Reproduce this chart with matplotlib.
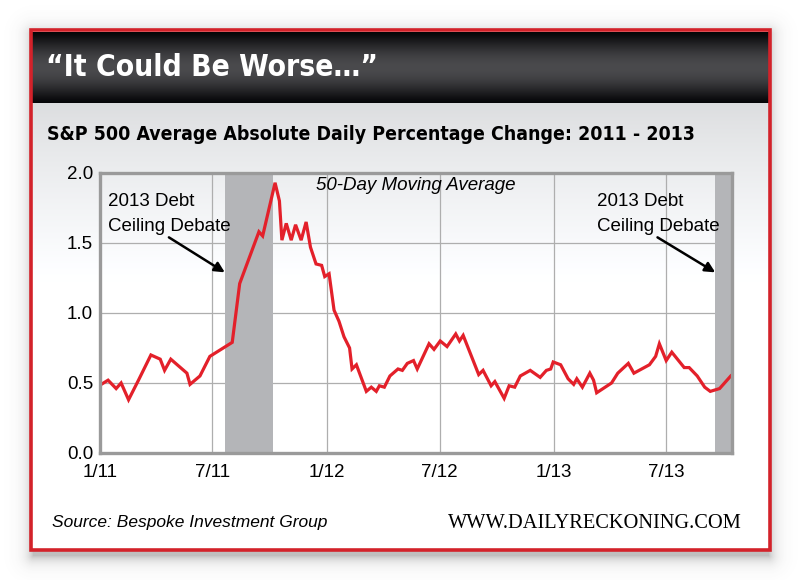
import numpy as np
import pandas as pd
import matplotlib
matplotlib.use('Agg')
import matplotlib.pyplot as plt
from matplotlib import font_manager as fm
from matplotlib.patches import Rectangle

# 50-day moving average of absolute daily % change
dates = ['2011-01-03', '2011-01-14', '2011-01-27', '2011-02-04', '2011-02-16', '2011-03-04',
         '2011-03-24', '2011-04-08', '2011-04-15', '2011-04-25', '2011-05-21', '2011-05-26',
         '2011-06-11', '2011-06-27', '2011-08-02', '2011-08-14', '2011-09-14', '2011-09-20',
         '2011-10-10', '2011-10-17', '2011-10-21', '2011-10-28', '2011-11-05', '2011-11-12',
         '2011-11-21', '2011-11-29', '2011-12-06', '2011-12-15', '2011-12-24', '2011-12-29',
         '2012-01-05', '2012-01-13', '2012-01-21', '2012-01-29', '2012-02-07', '2012-02-11',
         '2012-02-18', '2012-03-05', '2012-03-13', '2012-03-21', '2012-03-26', '2012-04-03',
         '2012-04-12', '2012-04-25', '2012-05-02', '2012-05-10', '2012-05-20', '2012-05-26',
         '2012-06-14', '2012-06-22', '2012-07-02', '2012-07-13', '2012-07-27', '2012-08-02',
         '2012-08-08', '2012-09-02', '2012-09-09', '2012-09-22', '2012-09-28', '2012-10-13',
         '2012-10-21', '2012-10-30', '2012-11-08', '2012-11-24', '2012-12-10', '2012-12-20',
         '2012-12-27', '2012-12-31', '2013-01-12', '2013-01-24', '2013-02-02', '2013-02-07',
         '2013-02-16', '2013-02-28', '2013-03-06', '2013-03-11', '2013-04-04', '2013-04-14',
         '2013-05-01', '2013-05-10', '2013-06-04', '2013-06-14', '2013-06-20', '2013-07-01',
         '2013-07-10', '2013-07-30', '2013-08-07', '2013-08-20', '2013-09-01', '2013-09-10',
         '2013-09-25', '2013-10-13']
values = [0.49, 0.52, 0.46, 0.50, 0.38, 0.52, 0.70, 0.67, 0.59, 0.67, 0.57, 0.49,
          0.55, 0.69, 0.79, 1.21, 1.58, 1.55, 1.93, 1.80, 1.52, 1.64, 1.52, 1.63,
          1.52, 1.65, 1.47, 1.35, 1.34, 1.26, 1.28, 1.02, 0.94, 0.83, 0.75, 0.60,
          0.63, 0.44, 0.47, 0.44, 0.48, 0.47, 0.55, 0.60, 0.59, 0.64, 0.66, 0.60,
          0.78, 0.74, 0.80, 0.76, 0.85, 0.80, 0.84, 0.56, 0.59, 0.48, 0.51, 0.39,
          0.48, 0.47, 0.55, 0.59, 0.54, 0.59, 0.60, 0.65, 0.63, 0.53, 0.49, 0.53,
          0.47, 0.57, 0.52, 0.43, 0.50, 0.57, 0.64, 0.57, 0.63, 0.69, 0.78, 0.66,
          0.72, 0.61, 0.61, 0.55, 0.47, 0.44, 0.46, 0.55]

shade_periods = [('2011-07-22', '2011-10-07'), ('2013-09-17', '2013-10-15')]
# arrow tail / head for each "Debt Ceiling" note
arrow_tails = [('2011-04-22', 1.54), ('2013-06-17', 1.54)]
arrow_heads = [('2011-07-21', 1.29), ('2013-09-18', 1.29)]
note_pos = [(0.012, 0.853), (0.786, 0.853)]
tick_dates = ['2011-01-01', '2011-07-01', '2012-01-01', '2012-07-01', '2013-01-01', '2013-07-01']
tick_labels = ['1/11', '7/11', '1/12', '7/12', '1/13', '7/13']
y_ticks = [0.0, 0.5, 1.0, 1.5, 2.0]

x = pd.to_datetime(dates)
sans = ['Liberation Sans', 'DejaVu Sans']

# condensed bold face for the headings if one is installed
names = {f.name for f in fm.fontManager.ttflist}
head_font = dict(family=['Liberation Sans', 'DejaVu Sans'], fontweight='bold')
if 'Liberation Sans Narrow' in names:
    head_font = dict(family=['Liberation Sans Narrow', 'DejaVu Sans'], fontweight='bold')
else:
    fp = fm.FontProperties(family='DejaVu Sans', weight='bold', stretch='condensed')
    if 'Condensed' in fm.findfont(fp):
        head_font = dict(family=['DejaVu Sans'], fontweight='bold', fontstretch='condensed')

fig = plt.figure(figsize=(8, 5.8), dpi=100)
fig.patch.set_facecolor('white')


def fit_width(txt, target_px):
    # shrink/grow a text so it spans the same width as in the original
    fig.canvas.draw()
    w = txt.get_window_extent().width
    txt.set_fontsize(txt.get_fontsize() * target_px / w)


# background: shadow, frame, header band, gradient panel (pixel coords)
bg = fig.add_axes([0, 0, 1, 1])
bg.set_xlim(0, 800)
bg.set_ylim(580, 0)
bg.axis('off')

W, H = 800, 580
yy, xx = np.mgrid[0:H, 0:W]
dx = np.maximum(np.maximum(33 - xx, xx - 768), 0)
dy = np.maximum(np.maximum(34 - yy, yy - 555), 0)
d = np.hypot(dx, dy)
shadow = np.zeros((H, W, 4))
shadow[..., :3] = 0.3
shadow[..., 3] = 0.36 * np.exp(-d / 6.5)
bg.imshow(shadow, extent=(0, W, H, 0), zorder=0, interpolation='bilinear')

bg.add_patch(Rectangle((31, 30), 739, 520, facecolor='white', edgecolor='none', zorder=1))

# light gray gradient under the subtitle
g = np.linspace(0, 1, 200)
panel = np.ones((200, 2, 3))
shade_val = 0.86 + 0.14 * np.clip(g * 1.1, 0, 1) ** 0.8
panel[..., 0] = shade_val[:, None]
panel[..., 1] = shade_val[:, None] + 0.005
panel[..., 2] = shade_val[:, None] + 0.012
bg.imshow(np.clip(panel, 0, 1), extent=(32, 769, 300, 103), aspect='auto', zorder=2,
          interpolation='bilinear')

# dark header band
t = np.linspace(0, 1, 100)
band = 0.02 + 0.27 * np.sin(np.pi * t) ** 1.2
header = np.zeros((100, 2, 3))
header[..., 0] = band[:, None]
header[..., 1] = band[:, None]
header[..., 2] = band[:, None] + 0.01
bg.imshow(header, extent=(32, 769, 103, 32), aspect='auto', zorder=3, interpolation='bilinear')

bg.add_patch(Rectangle((31, 30), 739, 520, facecolor='none', edgecolor='#d3222a',
                       linewidth=2.6, zorder=5))

title = bg.text(46, 68, '\u201cIt Could Be Worse\u2026\u201d', color='white', fontsize=23,
                va='center', ha='left', zorder=6, **head_font)
subtitle = bg.text(47, 134, 'S&P 500 Average Absolute Daily Percentage Change: 2011 - 2013',
                   color='black', fontsize=14.5, va='center', ha='left', zorder=6, **head_font)
source = bg.text(52, 523, 'Source: Bespoke Investment Group', fontsize=12.5, style='italic',
                 family=sans, va='center', ha='left', zorder=6)
site = bg.text(742, 523, 'WWW.DAILYRECKONING.COM', fontsize=14,
               family=['Liberation Serif', 'DejaVu Serif'], va='center', ha='right', zorder=6)
fit_width(title, 332)
fit_width(subtitle, 645)
fit_width(site, 295)

# chart
ax = fig.add_axes([0.125, 0.219, 0.79, 0.4828])
ax.patch.set_alpha(0)
ax.set_xlim(pd.Timestamp('2011-01-01'), pd.Timestamp('2013-10-15'))
ax.set_ylim(0, 2.0)

for start, end in shade_periods:
    ax.axvspan(pd.Timestamp(start), pd.Timestamp(end), color='#b4b5b8', lw=0, zorder=1)

ax.plot(x, values, color='#e3202a', linewidth=2.3, zorder=3, solid_joinstyle='miter')

ax.set_xticks(pd.to_datetime(tick_dates))
ax.set_xticklabels(tick_labels)
ax.set_yticks(y_ticks)
ax.set_yticklabels(['%.1f' % v for v in y_ticks])
ax.grid(True, color='#aeaeae', linewidth=0.9, zorder=0)
ax.set_axisbelow(True)
ax.tick_params(length=0, labelsize=13.5)
ax.tick_params(axis='x', pad=8)
ax.tick_params(axis='y', pad=5)
for lab in ax.get_xticklabels() + ax.get_yticklabels():
    lab.set_family(sans)
for s in ax.spines.values():
    s.set_color('#9a9a9a')
    s.set_linewidth(2.4)
    s.set_zorder(4)

ax.text(0.5, 0.955, '50-Day Moving Average', transform=ax.transAxes, fontsize=13.5,
        style='italic', family=sans, ha='center', va='center')

for (tx, ty), (hx, hy), (nx, ny) in zip(arrow_tails, arrow_heads, note_pos):
    ax.text(nx, ny, '2013 Debt\nCeiling Debate', transform=ax.transAxes, fontsize=13.5,
            family=sans, ha='left', va='center', linespacing=1.6)
    ax.annotate('', xy=(pd.Timestamp(hx), hy), xytext=(pd.Timestamp(tx), ty),
                arrowprops=dict(arrowstyle='-|>', color='black', lw=1.8, mutation_scale=15,
                                shrinkA=0, shrinkB=0))

fig.savefig('out.png', dpi=100)
